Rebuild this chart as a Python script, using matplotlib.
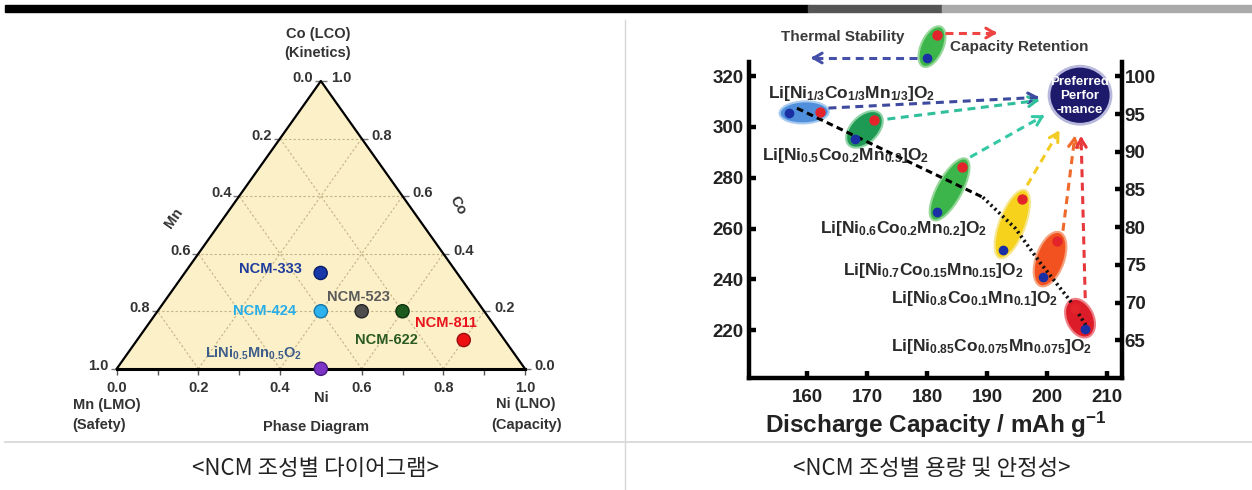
import numpy as np
import matplotlib.pyplot as plt
from matplotlib.patches import Ellipse, Polygon, Rectangle, FancyArrowPatch
from matplotlib.lines import Line2D
from matplotlib.transforms import IdentityTransform

W, H = 1252, 490

plt.rcParams['font.family'] = ['Liberation Sans', 'DejaVu Sans']
plt.rcParams['mathtext.fontset'] = 'custom'
plt.rcParams['mathtext.rm'] = 'Liberation Sans'
plt.rcParams['mathtext.bf'] = 'Liberation Sans:bold'
plt.rcParams['mathtext.it'] = 'Liberation Sans:italic'

# Donnees du diagramme ternaire (fractions Ni / Co, Mn = reste)
ncm_labels = ["NCM-333", "NCM-424", "NCM-523", "NCM-622", "NCM-811",
              r"$\mathbf{LiNi_{0.5}Mn_{0.5}O_2}$"]
ni_frac = [0.333, 0.4, 0.5, 0.6, 0.8, 0.5]
co_frac = [0.333, 0.2, 0.2, 0.2, 0.1, 0.0]
tern_ticks = [0.0, 0.2, 0.4, 0.6, 0.8, 1.0]

# Donnees capacite / stabilite thermique / retention
formulas = [r"$\mathbf{Li[Ni_{1/3}Co_{1/3}Mn_{1/3}]O_2}$",
            r"$\mathbf{Li[Ni_{0.5}Co_{0.2}Mn_{0.3}]O_2}$",
            r"$\mathbf{Li[Ni_{0.6}Co_{0.2}Mn_{0.2}]O_2}$",
            r"$\mathbf{Li[Ni_{0.7}Co_{0.15}Mn_{0.15}]O_2}$",
            r"$\mathbf{Li[Ni_{0.8}Co_{0.1}Mn_{0.1}]O_2}$",
            r"$\mathbf{Li[Ni_{0.85}Co_{0.075}Mn_{0.075}]O_2}$"]
cap_blue = [156.9, 168.0, 181.7, 192.6, 199.4, 206.3]
thermal = [305.5, 295.4, 266.5, 251.7, 240.7, 220.6]
cap_red = [162.1, 171.1, 185.8, 195.8, 201.6, 204.7]
retention = [95.3, 94.2, 88.0, 83.8, 78.2, 69.3]
trend_dash_cap = [158.3, 189.3]
trend_dash_temp = [307.4, 272.3]
trend_dot_cap = [189.3, 194.7, 198.8, 203.8, 206.8]
trend_dot_temp = [272.3, 260.1, 246.7, 231.7, 220.7]
pref_cap, pref_temp = 205.5, 312.5
x_ticks = [160, 170, 180, 190, 200, 210]
y_ticks_left = [220, 240, 260, 280, 300, 320]
y_ticks_right = [65, 70, 75, 80, 85, 90, 95, 100]

fig = plt.figure(figsize=(W / 100, H / 100), dpi=100)
fig.patch.set_facecolor('white')


def fx(x):
    return x / W


def fy(y):
    return 1 - y / H


def px2pt(v):
    return v * 0.72


# Bandeau du haut + separateurs
fig.add_artist(Rectangle((fx(5), fy(12.5)), fx(808) - fx(5), 7.5 / H, transform=fig.transFigure, color='black'))
fig.add_artist(Rectangle((fx(808), fy(12.5)), fx(942) - fx(808), 7.5 / H, transform=fig.transFigure, color='#555555'))
fig.add_artist(Rectangle((fx(942), fy(12.5)), 1 - fx(942), 7.5 / H, transform=fig.transFigure, color='#aaaaaa'))
fig.add_artist(Line2D([fx(5), 1], [fy(441.5), fy(441.5)], transform=fig.transFigure, color='#d6d6d6', lw=1.2))
fig.add_artist(Line2D([fx(625), fx(625)], [fy(20), 0], transform=fig.transFigure, color='#d6d6d6', lw=1.0))

# ---------------- Diagramme ternaire ----------------
tax = fig.add_axes([fx(116.7), fy(368.8), (525 - 116.7) / W, (368.8 - 81) / H])
tax.set_xlim(0, 1)
tax.set_ylim(0, 1)
tax.axis('off')


def tern(ni, co):
    return ni + co / 2, co


tax.add_patch(Polygon([(0, 0), (1, 0), (0.5, 1)], closed=True, fc='#fcf0c8', ec='none', zorder=0))
for v in [0.2, 0.4, 0.6, 0.8]:
    for p, q in [(tern(1 - v, v), tern(0, v)), (tern(v, 0), tern(v, 1 - v)), (tern(1 - v, 0), tern(0, 1 - v))]:
        tax.plot([p[0], q[0]], [p[1], q[1]], color='#c2b287', lw=0.8, ls=(0, (2, 2)), zorder=1)
tax.plot([0, 0.5, 1], [0, 1, 0], color='black', lw=1.6, zorder=3, clip_on=False)
tax.plot([0, 1], [0, 0], color='black', lw=2.2, zorder=3, clip_on=False)

minor = [i / 10 for i in range(11)]
tax.plot(minor, [0] * 11, ls='none', marker=3, ms=4, mew=1, color='#555555', clip_on=False)
tax.plot([tern(0, 1 - m)[0] for m in tern_ticks], [tern(0, 1 - m)[1] for m in tern_ticks],
         ls='none', marker=0, ms=4, mew=1, color='#777777', clip_on=False)
tax.plot([tern(1 - c, c)[0] for c in tern_ticks], [tern(1 - c, c)[1] for c in tern_ticks],
         ls='none', marker=1, ms=4, mew=1, color='#777777', clip_on=False)

tk = dict(textcoords='offset points', ha='center', va='center', fontsize=10.5,
          fontweight='bold', color='#333333', annotation_clip=False)
for v in tern_ticks:
    tax.annotate(f"{v:.1f}", xy=tern(v, 0), xytext=(0, px2pt(-19.5)), **tk)
    tax.annotate(f"{v:.1f}", xy=tern(0, 1 - v), xytext=(px2pt(-18), px2pt(3)), **tk)
    tax.annotate(f"{v:.1f}", xy=tern(1 - v, v), xytext=(px2pt(20), px2pt(3)), **tk)

dot_colors = ['#1638a8', '#2eb2ee', '#4d4d4d', '#1d5a1d', '#ee1111', '#7d35c8']
dot_edges = ['#0c1f66', '#1677a8', '#262626', '#0f330f', '#991010', '#4a1a80']
lab_colors = ['#1e3c9c', '#27aee8', '#5a5a5a', '#2b5a22', '#e8131b', '#3d5d8a']
lab_off = [(-50, 3.5), (-56, 0), (-3, 14), (-16, -29), (-18, 17), (-67.5, 15.5)]
tx = [tern(n, c)[0] for n, c in zip(ni_frac, co_frac)]
ty = [tern(n, c)[1] for n, c in zip(ni_frac, co_frac)]
tax.scatter(tx, ty, s=90, c=dot_colors, edgecolors=dot_edges, linewidths=1, zorder=5, clip_on=False)
for i in range(len(ncm_labels)):
    tax.annotate(ncm_labels[i], xy=(tx[i], ty[i]), xytext=(px2pt(lab_off[i][0]), px2pt(lab_off[i][1])),
                 textcoords='offset points', ha='center', va='center', fontsize=10.5,
                 fontweight='bold', color=lab_colors[i], zorder=6)

tt = dict(ha='center', va='center', fontsize=10.5, fontweight='bold', color='#333333')
fig.text(fx(318), fy(34), "Co (LCO)", **tt)
fig.text(fx(318), fy(53), "(Kinetics)", **tt)
fig.text(fx(174), fy(218), "Mn", rotation=55, **tt)
fig.text(fx(458), fy(205), "Co", rotation=-60, **tt)
fig.text(fx(321), fy(398), "Ni", **tt)
fig.text(fx(316), fy(426.5), "Phase Diagram", **tt)
fig.text(fx(107), fy(405), "Mn (LMO)", **tt)
fig.text(fx(99), fy(425), "(Safety)", **tt)
fig.text(fx(526), fy(404), "Ni (LNO)", **tt)
fig.text(fx(527), fy(425), "(Capacity)", **tt)

# ---------------- Capacite vs stabilite ----------------
ax = fig.add_axes([fx(749), fy(378), (1122 - 749) / W, (378 - 62) / H])
ax.set_xlim(150.3, 212.5)
ax.set_ylim(201.1, 325.6)
ax2 = ax.twinx()
ax2.set_ylim(60, 101.9)
ax.set_xticks(x_ticks)
ax.set_yticks(y_ticks_left)
ax2.set_yticks(y_ticks_right)
ax.patch.set_alpha(0)
for a in (ax, ax2):
    for s in a.spines.values():
        s.set_linewidth(3.2)
    a.spines['top'].set_visible(False)
ax.spines['right'].set_visible(False)
ax2.spines['left'].set_visible(False)
ax2.spines['bottom'].set_visible(False)
ax.tick_params(axis='both', direction='in', length=5, width=3.2, labelsize=13.5)
ax.tick_params(axis='x', pad=8)
ax.tick_params(axis='y', pad=4)
ax2.tick_params(axis='y', direction='in', length=5, width=3.2, labelsize=13.5, pad=2)
for lab in ax.get_xticklabels() + ax.get_yticklabels() + ax2.get_yticklabels():
    lab.set_fontweight('bold')
    lab.set_color('#222222')
ax.set_xlabel(r"Discharge Capacity / mAh g$^{\mathbf{-1}}$", fontsize=17.5, fontweight='bold',
              color='#222222', labelpad=3)

ell_fc = ['#4f8fdc', '#1e9a55', '#3cb54a', '#f7d21c', '#f2521f', '#dc1c28']
ell_ec = ['#a8cbef', '#8fd3a5', '#97d89a', '#f6e78e', '#f5a27f', '#ee8088']
ell_minor = [22, 27, 25, 26, 28, 27]
idt = IdentityTransform()
for i in range(len(cap_blue)):
    b = ax.transData.transform((cap_blue[i], thermal[i]))
    r = ax2.transData.transform((cap_red[i], retention[i]))
    d = r - b
    ang = np.degrees(np.arctan2(d[1], d[0]))
    ax.add_patch(Ellipse((b + r) / 2, np.hypot(*d) + 18, ell_minor[i], angle=ang, transform=idt,
                         fc=ell_fc[i], ec=ell_ec[i], lw=1.5, zorder=2))

ax.plot(trend_dash_cap, trend_dash_temp, color='black', lw=2.2, dashes=(2.2, 1.4), zorder=3)
ax.plot(trend_dot_cap, trend_dot_temp, color='#111111', lw=2.6, ls=(0, (0.6, 0.9)), zorder=3)
ax.scatter(cap_blue, thermal, s=36, c='#1b2fa5', zorder=4)
ax2.scatter(cap_red, retention, s=42, c='#e3242b', zorder=4)

lbl_off = [(62.7, -19.7), (-10, 16.7), (-33.3, 16.6), (-69.4, 20.7), (-69.1, 21), (-93.3, 18.4)]
for i in range(len(formulas)):
    ax.annotate(formulas[i], xy=(cap_blue[i], thermal[i]),
                xytext=(px2pt(lbl_off[i][0]), -px2pt(lbl_off[i][1])), textcoords='offset points',
                ha='center', va='center', fontsize=12.5, color='#2a2a2a', zorder=6,
                annotation_clip=False)

# Cercle "Preferred Performance"
pc = ax.transData.transform((pref_cap, pref_temp))
circ = Ellipse(pc, 62, 58, transform=idt, fc='#1d1a6c', ec='#b8b8dc', lw=2, zorder=5)
ax.add_patch(circ)
for txt, dy in [("Preferred", 13), ("Perfor", -1), ("-mance", -15)]:
    t = ax.text(pc[0], pc[1] + dy, txt, transform=idt, ha='center', va='center', fontsize=9.5,
                fontweight='bold', color='white', zorder=6)
    t.set_clip_path(circ)


def dash_arrow(p0, p1, color, lw=2.2):
    p0 = np.asarray(p0, float)
    p1 = np.asarray(p1, float)
    u = (p1 - p0) / np.hypot(*(p1 - p0))
    q = p1 - 4 * u
    fig.add_artist(Line2D([p0[0], q[0]], [p0[1], q[1]], transform=idt, color=color, lw=lw,
                          dashes=(2.6, 1.8)))
    fig.add_artist(FancyArrowPatch(p1 - 10 * u, p1, transform=idt, color=color, lw=lw,
                                   arrowstyle='->,head_length=6,head_width=3.5', mutation_scale=1))


arr_colors = ['#3d4a9e', '#2fbf9a', '#35c8a5', '#f2cc22', '#ef6a2a', '#e8383c']
arr_off = [(8.7, 3.7), (13.7, 1), (8.3, 9.7), (5.3, 13.3), (6.3, 10), (10, 9.7)]
for i in range(len(cap_red)):
    r = ax2.transData.transform((cap_red[i], retention[i]))
    s = r + np.array(arr_off[i])
    u = (s - pc) / np.hypot(*(s - pc))
    dash_arrow(s, pc + 38 * u, arr_colors[i])

# Legende en haut
leg_b = np.array([926.7, H - 58.3])
leg_r = np.array([937.3, H - 35])
d = leg_r - leg_b
fig.add_artist(Ellipse((leg_b + leg_r) / 2, np.hypot(*d) + 18, 22, angle=np.degrees(np.arctan2(d[1], d[0])),
                       transform=idt, fc='#3cb54a', ec='#97d89a', lw=1.5))
fig.add_artist(Line2D([leg_b[0]], [leg_b[1]], transform=idt, marker='o', ms=6, color='#1b2fa5', ls='none'))
fig.add_artist(Line2D([leg_r[0]], [leg_r[1]], transform=idt, marker='o', ms=6.5, color='#e3242b', ls='none'))
dash_arrow((917, H - 58), (808, H - 58), '#4550a8')
dash_arrow((945, H - 33), (1000, H - 33), '#ee4444')
fig.text(fx(843), fy(37), "Thermal Stability", ha='center', va='center', fontsize=11,
         fontweight='bold', color='#3a3a3a')
fig.text(fx(950), fy(47), "Capacity Retention", ha='left', va='center', fontsize=11,
         fontweight='bold', color='#3a3a3a')

# Legendes coreennes
fig.text(fx(316), fy(468), "<NCM 조성별 다이어그램>", ha='center', va='center', fontsize=16,
         family=['Noto Sans CJK KR', 'DejaVu Sans'], color='#222222')
fig.text(fx(932), fy(468), "<NCM 조성별 용량 및 안정성>", ha='center', va='center', fontsize=16,
         family=['Noto Sans CJK KR', 'DejaVu Sans'], color='#222222')

fig.savefig('out.png', dpi=100, facecolor='white')
